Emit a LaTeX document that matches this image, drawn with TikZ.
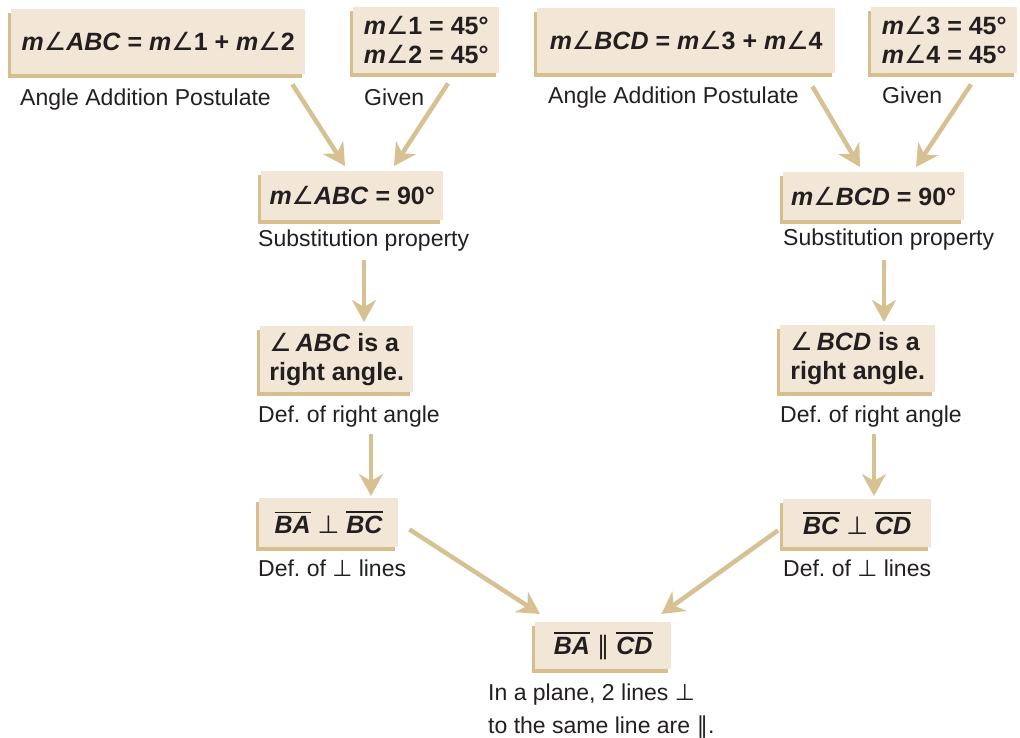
\documentclass[tikz,border=0pt]{standalone}
\usepackage{fontspec}
\setmainfont{Liberation Sans}
\newfontfamily\symf{DejaVu Sans}
\usetikzlibrary{arrows.meta,shadows,calc}
\definecolor{boxfill}{HTML}{F2E7D6}
\definecolor{boxshade}{HTML}{D6BF8E}
\definecolor{arrowc}{HTML}{D7C193}
\definecolor{ink}{HTML}{231F20}
\newcommand\ang{{\symf\mdseries\upshape ∠}}
\newcommand\vx[1]{\textit{#1}}
\newcommand\seg[1]{\leavevmode\vbox{\hrule height 1.6pt\kern 3.2pt\hbox{#1}}}
\frenchspacing
\tikzset{
  pbox/.style={fill=boxfill, general shadow={fill=boxshade, shadow xshift=-3.5pt, shadow yshift=-3.5pt},
    inner sep=0pt, anchor=north west, text=ink, font=\fontsize{25}{29}\selectfont\bfseries, align=left},
  lbl/.style={anchor=base west, inner sep=0pt, text=ink, font=\fontsize{23}{33}\selectfont},
  arr/.style={draw=arrowc, line width=4.5pt, -{Stealth[length=22pt,width=24pt,inset=7pt]}}
}
\begin{document}
\begin{tikzpicture}[x=1pt,y=-1pt]
\useasboundingbox (0,0) rectangle (1020,738);
% boxes
\node[pbox, minimum width=294pt, minimum height=65pt] (b1) at (11,9) {\vx{m}\ang\vx{ABC} = \vx{m}\ang 1 + \vx{m}\ang 2};
\node[pbox, minimum width=146pt, minimum height=66pt] (b2) at (353,7) {\vx{m}\ang 1 = 45°\\\vx{m}\ang 2 = 45°};
\node[pbox, minimum width=298pt, minimum height=65pt] (b3) at (537,8) {\vx{m}\ang\vx{BCD} = \vx{m}\ang 3 + \vx{m}\ang 4};
\node[pbox, minimum width=146pt, minimum height=66pt] (b4) at (871,7) {\vx{m}\ang 3 = 45°\\\vx{m}\ang 4 = 45°};
\node[pbox, minimum width=182pt, minimum height=49pt] (b5) at (261,171) {\vx{m}\ang\vx{ABC} = 90°};
\node[pbox, minimum width=181pt, minimum height=48pt] (b6) at (783,172) {\vx{m}\ang\vx{BCD} = 90°};
\node[pbox, minimum width=153pt, minimum height=66pt] (b7) at (260,326) {\ang\,\vx{ABC} is a\\right angle.};
\node[pbox, minimum width=155pt, minimum height=67pt] (b8) at (780,325) {\ang\,\vx{BCD} is a\\right angle.};
\node[pbox, minimum width=139pt, minimum height=49pt] (b9) at (259,498) {\seg{\vx{BA}} {\symf\mdseries ⊥} \seg{\vx{BC}}};
\node[pbox, minimum width=148pt, minimum height=48pt] (b10) at (783,499) {\seg{\vx{BC}} {\symf\mdseries ⊥} \seg{\vx{CD}}};
\node[pbox, minimum width=136pt, minimum height=47pt] (b11) at (535,622) {\seg{\vx{BA}} {\symf\mdseries ∥} \seg{\vx{CD}}};
% labels
\node[lbl] (l1) at (20,106) {Angle Addition Postulate};
\node[lbl] (l2) at (364,106) {Given};
\node[lbl] (l3) at (548,104) {Angle Addition Postulate};
\node[lbl] (l4) at (882,104) {Given};
\node[lbl] (l5) at (258,247) {Substitution property};
\node[lbl] (l6) at (783,246) {Substitution property};
\node[lbl] (l7) at (258,422) {Def. of right angle};
\node[lbl] (l8) at (780,422) {Def. of right angle};
\node[lbl] (l9) at (258,576) {Def. of {\symf ⊥} lines};
\node[lbl] (l10) at (783,576) {Def. of {\symf ⊥} lines};
\node[lbl] (l11a) at (488,700) {In a plane, 2 lines {\symf ⊥}};
\node[lbl] (l11b) at (488,733) {to the same line are {\symf ∥}.};
% arrows
\draw[arr] ($(b1.south east)+(-13,10)$) -- ($(b5.north west)+(84,-5)$);
\draw[arr] ($(b2.south west)+(95,10)$) -- ($(b5.north west)+(133,-5)$);
\draw[arr] ($(b3.south east)+(-23,13)$) -- ($(b6.north west)+(77,-5)$);
\draw[arr] ($(b4.south west)+(100,11)$) -- ($(b6.north west)+(133,-5)$);
\draw[arr] ($(b5.south west)+(103,40)$) -- ($(b7.north west)+(104,-4)$);
\draw[arr] ($(b6.south west)+(101,40)$) -- ($(b8.north west)+(104,-3)$);
\draw[arr] ($(b7.south west)+(111,42)$) -- ($(b9.north west)+(112,-2)$);
\draw[arr] ($(b8.south west)+(94,42)$) -- ($(b10.north west)+(91,-3)$);
\draw[arr] ($(b9.south east)+(11,-18)$) -- ($(b11.north west)+(5,-8)$);
\draw[arr] ($(b10.south west)+(-5,-17)$) -- ($(b11.north east)+(-10,-8)$);
\end{tikzpicture}
\end{document}
